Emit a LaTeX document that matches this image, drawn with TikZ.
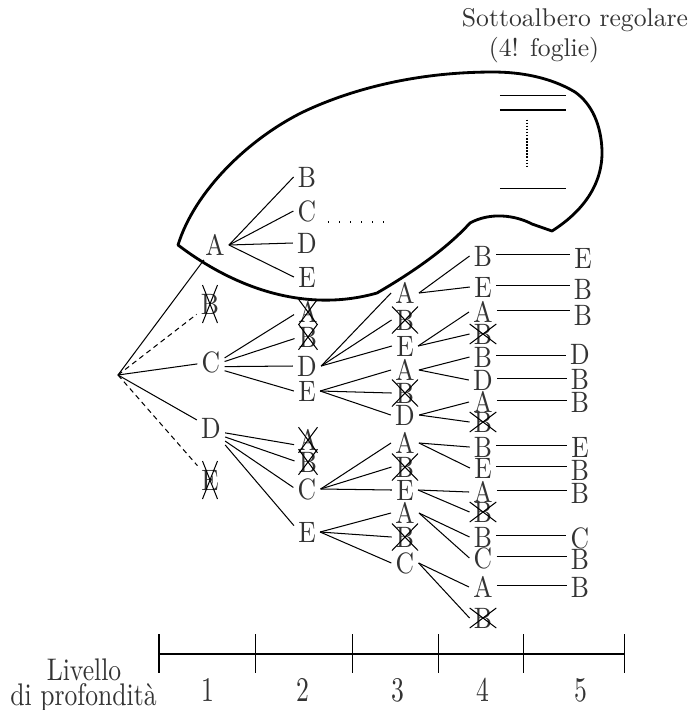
\documentclass[tikz,border=0pt]{standalone}
\usepackage{fontspec}
\newcommand{\vs}[1]{\scalebox{1}[1.15]{#1}}
\newcommand{\vt}[1]{\scalebox{1}[1.35]{#1}}
\newcommand{\vl}[1]{\scalebox{1}[1.22]{#1}}
\begin{document}
\begin{tikzpicture}[x=0.39pt,y=-0.39pt,
  every node/.style={font=\fontsize{10}{12}\selectfont, text=black!80},
  lbl/.style={inner sep=1.5pt},
  edge/.style={line width=0.4pt},
  dashedge/.style={line width=0.4pt,dash pattern=on 2pt off 1.5pt},
  blob/.style={line width=1.1pt,line join=round},
  tick/.style={line width=0.4pt}]
\useasboundingbox (0,0) rectangle (691,710);
\newcommand{\mycross}[3]{%
  \draw[edge] ([shift={(-#2,-#3)}]#1.center) -- ([shift={(#2,#3)}]#1.center);
  \draw[edge] ([shift={(-#2,#3)}]#1.center) -- ([shift={(#2,-#3)}]#1.center);}

% title
\node[anchor=base] (t1) at (575,26.7) {Sottoalbero regolare};
\node[anchor=base] (t2) at (544,56.7) {(4! foglie)};

% blob
\draw[blob] (178,245) .. controls (240,292) and (310,312) .. (377,293)
 .. controls (420,268) and (450,245) .. (470,223)
 .. controls (490,212) and (515,215) .. (532,224)
 -- (552,231)
 .. controls (582,212) and (603,185) .. (602,150)
 .. controls (601,125) and (592,104) .. (575,92)
 .. controls (550,77) and (520,72) .. (493,72)
 .. controls (410,72) and (345,92) .. (303,112)
 .. controls (250,138) and (195,190) .. (178,245) -- cycle;

% regular subtree symbol inside blob
\coordinate (s1a) at (500,95.5);  \coordinate (s1b) at (566,95.5);
\coordinate (s2a) at (500,110);   \coordinate (s2b) at (566,110);
\coordinate (s3a) at (500,188.3); \coordinate (s3b) at (566,188.3);
\coordinate (v1) at (527.3,119.5); \coordinate (v2) at (527.3,167.5);
\draw[edge] (s1a) -- (s1b);
\draw[edge] (s2a) -- (s2b);
\draw[edge] (s3a) -- (s3b);
\draw[line width=0.8pt,dash pattern=on 0.6pt off 0.6pt] (v1) -- (v2);

% root
\coordinate (r) at (118,375);

% level 1
\node[lbl] (a1) at (215,245) {\vs{A}};
\node[lbl] (b1) at (210,304) {\vs{B}};
\node[lbl] (c1) at (211,362) {\vs{C}};
\node[lbl] (d1) at (211,428) {\vs{D}};
\node[lbl] (e1) at (210,480) {\vs{E}};
\mycross{b1}{7.5}{19}
\mycross{e1}{7.5}{19}

\draw[edge] (r) -- (a1);
\draw[edge] (r) -- (c1);
\draw[edge] (r) -- (d1);
\draw[dashedge] (r) -- (b1);
\draw[dashedge] (r) -- (e1);

% level 2 under A (inside blob)
\node[lbl] (aB) at (307,177) {\vs{B}};
\node[lbl] (aC) at (307,211) {\vs{C}};
\node[lbl] (aD) at (307,243) {\vs{D}};
\node[lbl] (aE) at (307,277) {\vs{E}};
\foreach \n in {aB,aC,aD,aE} \draw[edge] (a1.east) -- (\n.west);
\coordinate (dd1) at (328,222);
\coordinate (dd2) at (385,222);
\draw[line width=1.1pt,dash pattern=on 0.45pt off 3.85pt] (dd1) -- (dd2);

% level 2 under C
\node[lbl] (c1A) at (308,312) {\vs{A}};
\node[lbl] (c1B) at (308,337) {\vs{B}};
\node[lbl] (c1D) at (307,366) {\vs{D}};
\node[lbl] (c1E) at (307,391) {\vs{E}};
\mycross{c1A}{9.5}{12.8}
\mycross{c1B}{9.5}{12.8}
\draw[edge] ([yshift=1.6pt]c1.east) -- ([yshift=-1pt]c1A.west);
\draw[edge] ([yshift=0.2pt]c1.east) -- ([yshift=-0.6pt]c1B.west);
\draw[edge] ([yshift=-1.8pt]c1.east) -- (c1D.west);
\draw[edge] ([yshift=-3.4pt]c1.east) -- (c1E.west);

% level 2 under D
\node[lbl] (d1A) at (308,440) {\vs{A}};
\node[lbl] (d1B) at (308,462) {\vs{B}};
\node[lbl] (d1C) at (307,489) {\vs{C}};
\node[lbl] (d1E) at (307,532) {\vs{E}};
\mycross{d1A}{9.5}{12.8}
\mycross{d1B}{9.5}{12.8}
\draw[edge] ([yshift=-1.9pt]d1.east) -- ([yshift=-1.8pt]d1A.west);
\draw[edge] ([yshift=-3.5pt]d1.east) -- ([yshift=0.4pt]d1B.west);
\draw[edge] ([yshift=-5.1pt]d1.east) -- ([yshift=0.6pt]d1C.west);
\draw[edge] ([yshift=-6.6pt]d1.east) -- ([yshift=2.5pt]d1E.west);

% level 3
\node[lbl] (x1) at (405,293) {\vs{A}};
\node[lbl] (x2) at (405,320) {\vs{B}};
\node[lbl] (x3) at (405,346) {\vs{E}};
\node[lbl] (x4) at (405,370) {\vs{A}};
\node[lbl] (x5) at (405,393) {\vs{B}};
\node[lbl] (x6) at (405,415) {\vs{D}};
\node[lbl] (x7) at (405,443) {\vs{A}};
\node[lbl] (x8) at (405,467) {\vs{B}};
\node[lbl] (x9) at (405,490) {\vs{E}};
\node[lbl] (x10) at (405,513) {\vs{A}};
\node[lbl] (x11) at (405,537) {\vs{B}};
\node[lbl] (x12) at (405,563) {\vs{C}};
\foreach \n in {x2,x5,x8,x11} {\mycross{\n}{13}{13.5}}
\foreach \n in {x1,x2,x3} \draw[edge] (c1D.east) -- (\n.west);
\foreach \n in {x4,x5,x6} \draw[edge] (c1E.east) -- (\n.west);
\foreach \n in {x7,x8,x9} \draw[edge] (d1C.east) -- (\n.west);
\foreach \n in {x10,x11,x12} \draw[edge] (d1E.east) -- (\n.west);

% level 4
\node[lbl] (y1) at (483,256) {\vs{B}};
\node[lbl] (y2) at (483,287) {\vs{E}};
\node[lbl] (y3) at (483,312) {\vs{A}};
\node[lbl] (y4) at (483,334) {\vs{B}};
\node[lbl] (y5) at (483,357) {\vs{B}};
\node[lbl] (y6) at (483,380) {\vs{D}};
\node[lbl] (y7) at (483,402) {\vs{A}};
\node[lbl] (y8) at (483,422) {\vs{B}};
\node[lbl] (y9) at (483,447) {\vs{B}};
\node[lbl] (y10) at (483,468) {\vs{E}};
\node[lbl] (y11) at (483,492) {\vs{A}};
\node[lbl] (y12) at (483,512) {\vs{B}};
\node[lbl] (y13) at (483,537) {\vs{B}};
\node[lbl] (y14) at (483,558) {\vs{C}};
\node[lbl] (y15) at (483,587) {\vs{A}};
\node[lbl] (y16) at (483,618) {\vs{B}};
\foreach \n in {y4,y8,y12,y16} {\mycross{\n}{13.3}{10}}
\foreach \n in {y1,y2} \draw[edge] (x1.east) -- (\n.west);
\foreach \n in {y3,y4} \draw[edge] (x3.east) -- (\n.west);
\foreach \n in {y5,y6} \draw[edge] (x4.east) -- (\n.west);
\foreach \n in {y7,y8} \draw[edge] (x6.east) -- (\n.west);
\foreach \n in {y9,y10} \draw[edge] (x7.east) -- (\n.west);
\foreach \n in {y11,y12} \draw[edge] (x9.east) -- (\n.west);
\foreach \n in {y13,y14} \draw[edge] (x10.east) -- (\n.west);
\foreach \n in {y15,y16} \draw[edge] (x12.east) -- (\n.west);

% level 5
\node[lbl] (z1) at (583,258) {\vs{E}};
\node[lbl] (z2) at (583,289) {\vs{B}};
\node[lbl] (z3) at (583,315) {\vs{B}};
\node[lbl] (z5) at (580,354) {\vs{D}};
\node[lbl] (z6) at (580,379) {\vs{B}};
\node[lbl] (z7) at (580,402) {\vs{B}};
\node[lbl] (z9) at (580,447) {\vs{E}};
\node[lbl] (z10) at (580,470) {\vs{B}};
\node[lbl] (z11) at (580,493) {\vs{B}};
\node[lbl] (z13) at (580,538) {\vs{C}};
\node[lbl] (z14) at (580,559) {\vs{B}};
\node[lbl] (z15) at (580,587) {\vs{B}};
\foreach \a/\b in {y1/z1,y2/z2,y3/z3,y5/z5,y6/z6,y7/z7,y9/z9,y10/z10,y11/z11,y13/z13,y14/z14,y15/z15}
  \draw[edge] ([yshift=0.6pt]\a.east) -- ([yshift=0.6pt]\a.east -| \b.west);

% depth axis
\foreach \i/\x in {0/159,1/255.7,2/352.7,3/438.3,4/523.3,5/624.3} {
  \coordinate (k\i) at (\x,654);
  \draw[tick] (\x,634) -- (\x,673);
}
\draw[tick] (k0) -- (k5);
\foreach \i/\x in {1/208.3,2/303.3,3/398.3,4/483.3,5/580.7}
  \node[anchor=base] (L\i) at (\x,701) {\vt{\i}};
\node[anchor=base] (liv1) at (84,680) {\vl{Livello}};
\node[anchor=base] (liv2) at (83.5,705) {\vl{di profondità}};
\end{tikzpicture}
\end{document}
